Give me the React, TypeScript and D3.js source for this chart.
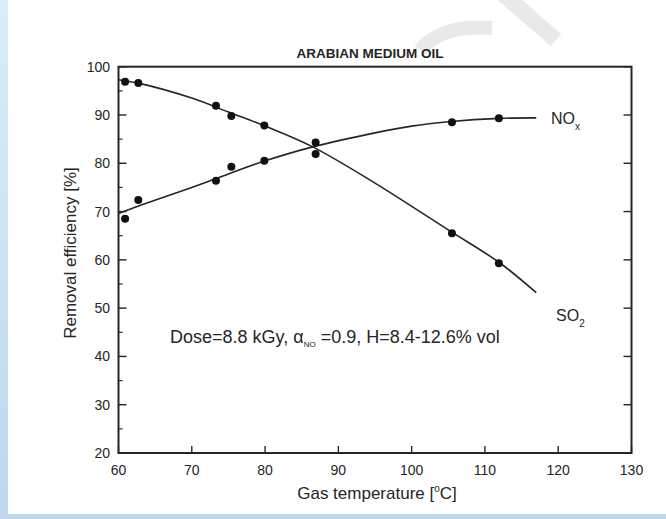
import React from "react";
import * as d3 from "d3";

const W = 666;
const H = 519;

// tick labels
const xTicks = [60, 70, 80, 90, 100, 110, 120, 130];
const yTicks = [20, 30, 40, 50, 60, 70, 80, 90, 100];
const yMinorTicks = [25, 35, 45, 55, 65, 75, 85, 95];

// measured points
const so2X = [60.9, 62.7, 73.3, 75.4, 79.9, 86.9, 105.5, 111.9];
const so2Y = [96.9, 96.6, 91.9, 89.8, 87.8, 81.9, 65.5, 59.3];
const noxX = [60.9, 62.7, 73.3, 75.4, 79.9, 86.9, 105.5, 111.9];
const noxY = [68.5, 72.4, 76.4, 79.3, 80.5, 84.3, 88.5, 89.3];

// fitted curves
const so2CurveX = [60, 63, 70, 75, 80, 86.5, 95, 105, 112, 117];
const so2CurveY = [97.3, 96.5, 93.5, 90.6, 87.7, 83.4, 75.9, 66.2, 59.4, 53.2];
const noxCurveX = [60, 63, 70, 75, 80, 86.5, 95, 100, 105, 112, 117];
const noxCurveY = [69.6, 71.3, 75.0, 77.8, 80.5, 83.4, 86.3, 87.7, 88.6, 89.3, 89.4];

const FONT = "'Liberation Sans', Arial, sans-serif";
const INK = "#262626";

export default function App() {
  const x = d3.scaleLinear().domain([60, 130]).range([118.5, 631.5]);
  const y = d3.scaleLinear().domain([20, 100]).range([453, 66.7]);
  const line = d3
    .line<[number, number]>()
    .x((d) => x(d[0]))
    .y((d) => y(d[1]))
    .curve(d3.curveCatmullRom.alpha(0.5));
  const so2Curve = so2CurveX.map((v, i) => [v, so2CurveY[i]] as [number, number]);
  const noxCurve = noxCurveX.map((v, i) => [v, noxCurveY[i]] as [number, number]);
  const [x0, x1] = x.range();
  const [y0, y1] = y.range();

  return (
    <svg
      width={W}
      height={H}
      style={{ position: "absolute", left: 0, top: 0, display: "block", background: "#fff" }}
      fontFamily={FONT}
    >
      <defs>
        <linearGradient id="edge" x1="0" y1="0" x2="0" y2="1">
          <stop offset="0" stopColor="#d9eef7" />
          <stop offset="1" stopColor="#bdd8ee" />
        </linearGradient>
      </defs>
      <rect x={0} y={0} width={W} height={H} fill="#fff" />
      {/* watermark fragments */}
      <path d="M 420 50 Q 442 24 492 28" fill="none" stroke="#e9e9e9" strokeWidth={14} />
      <path d="M 503 -6 L 556 40" fill="none" stroke="#e9e9e9" strokeWidth={16} />
      {/* frame edges */}
      <rect x={0} y={0} width={8} height={H} fill="url(#edge)" />
      <rect x={0} y={514} width={W} height={5} fill="#bdd8ee" />

      {/* title */}
      <text x={370} y={58} textAnchor="middle" fontSize={13.5} fontWeight="bold" fill={INK}>
        ARABIAN MEDIUM OIL
      </text>

      {/* ticks */}
      {yTicks.map((t) => (
        <g key={"y" + t}>
          <line x1={x0} x2={x0 + 8} y1={y(t)} y2={y(t)} stroke={INK} strokeWidth={1.4} />
          <line x1={x1} x2={x1 - 8} y1={y(t)} y2={y(t)} stroke={INK} strokeWidth={1.4} />
          <text x={110} y={y(t) + 5} textAnchor="end" fontSize={14} fill={INK}>
            {t}
          </text>
        </g>
      ))}
      {yMinorTicks.map((t) => (
        <line key={"ym" + t} x1={x0} x2={x0 + 4} y1={y(t)} y2={y(t)} stroke={INK} strokeWidth={1.2} />
      ))}
      {xTicks.map((t) => (
        <g key={"x" + t}>
          <line x1={x(t)} x2={x(t)} y1={y0} y2={y0 - 7} stroke={INK} strokeWidth={1.4} />
          <text x={x(t)} y={475} textAnchor="middle" fontSize={14} fill={INK}>
            {t}
          </text>
        </g>
      ))}

      {/* frame */}
      <rect x={x0} y={y1} width={x1 - x0} height={y0 - y1} fill="none" stroke={INK} strokeWidth={2} />

      {/* curves */}
      <path d={line(so2Curve) || ""} fill="none" stroke={INK} strokeWidth={1.6} />
      <path d={line(noxCurve) || ""} fill="none" stroke={INK} strokeWidth={1.6} />

      {/* points */}
      {so2X.map((v, i) => (
        <circle key={"s" + i} cx={x(v)} cy={y(so2Y[i])} r={4} fill="#111" />
      ))}
      {noxX.map((v, i) => (
        <circle key={"n" + i} cx={x(v)} cy={y(noxY[i])} r={4} fill="#111" />
      ))}

      {/* series labels */}
      <text x={551} y={124} fontSize={16} fill={INK}>
        NO<tspan fontSize={10} dy={6}>x</tspan>
      </text>
      <text x={556} y={321} fontSize={16} fill={INK}>
        SO<tspan fontSize={10} dy={6}>2</tspan>
      </text>

      {/* annotation */}
      <text x={170} y={343} fontSize={18} fill={INK}>
        Dose=8.8 kGy, α<tspan fontSize={8} dy={4}>NO</tspan>
        <tspan dy={-4}> =0.9, H=8.4-12.6% vol</tspan>
      </text>

      {/* axis titles */}
      <text x={377} y={499} textAnchor="middle" fontSize={17} fill={INK}>
        Gas temperature [<tspan fontSize={10} dy={-7}>o</tspan>
        <tspan dy={7}>C]</tspan>
      </text>
      <text
        transform={`translate(76, 253) rotate(-90)`}
        textAnchor="middle"
        fontSize={17}
        fill={INK}
      >
        Removal efficiency [%]
      </text>
    </svg>
  );
}
